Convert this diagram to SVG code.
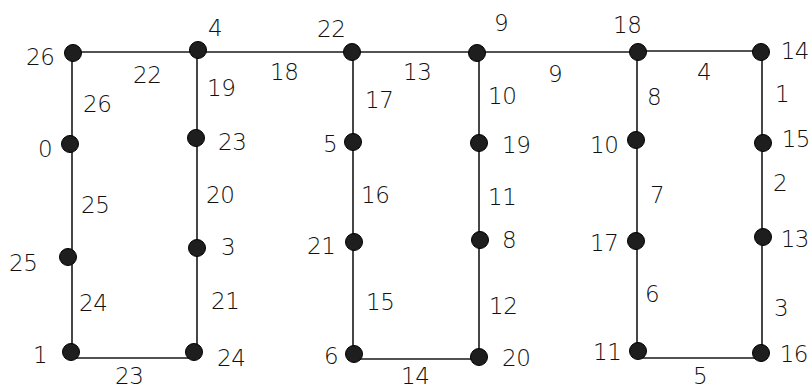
<svg xmlns="http://www.w3.org/2000/svg" width="811" height="389" viewBox="0 0 811 389">
<style>
.e{stroke:#1a1a1a;stroke-width:1.6;fill:none}
.n{fill:#1e1e1e;stroke:#000;stroke-width:1}
.t{font-family:"DejaVu Sans","Liberation Sans",sans-serif;font-size:23px;font-weight:200;fill:#111;letter-spacing:-0.5px}
.r{text-anchor:end}
</style>
<rect width="811" height="389" fill="#fff"/>
<g id="connectors">
<path class="e" d="M72,52H638M638,51H762"/>
<path class="e" d="M72,53V358H197V50"/>
<path class="e" d="M353,52V359H479V52"/>
<path class="e" d="M637,51V358H762V51"/>
</g>
<g id="edge-labels" class="t">
<text x="133" y="83">22</text>
<text x="270" y="80">18</text>
<text x="403" y="80">13</text>
<text x="548" y="82">9</text>
<text x="697" y="80">4</text>
<text x="83" y="112">26</text>
<text x="81" y="213">25</text>
<text x="79" y="311">24</text>
<text x="207" y="96">19</text>
<text x="206" y="203">20</text>
<text x="211" y="309">21</text>
<text x="115" y="384">23</text>
<text x="365" y="108">17</text>
<text x="361" y="203">16</text>
<text x="366" y="310">15</text>
<text x="401" y="384">14</text>
<text x="488" y="104">10</text>
<text x="488" y="205">11</text>
<text x="489" y="314">12</text>
<text x="647" y="105">8</text>
<text x="650" y="203">7</text>
<text x="645" y="302">6</text>
<text x="693" y="384">5</text>
<text x="775" y="102">1</text>
<text x="773" y="191">2</text>
<text x="774" y="316">3</text>
</g>
<g id="n26"><circle class="n" cx="73" cy="53" r="8.5"/><text class="t" x="26" y="65">26</text></g>
<g id="n4"><circle class="n" cx="198" cy="50" r="8.5"/><text class="t" x="208" y="36">4</text></g>
<g id="n22"><circle class="n" cx="352" cy="52" r="8.5"/><text class="t" x="317" y="37">22</text></g>
<g id="n9"><circle class="n" cx="477" cy="53" r="8.5"/><text class="t" x="494" y="31">9</text></g>
<g id="n18"><circle class="n" cx="638" cy="52" r="8.5"/><text class="t" x="613" y="33">18</text></g>
<g id="n14"><circle class="n" cx="761" cy="52" r="8.5"/><text class="t r" x="809" y="59">14</text></g>
<g id="n0"><circle class="n" cx="70" cy="144" r="8.5"/><text class="t" x="38" y="157">0</text></g>
<g id="n23"><circle class="n" cx="196" cy="138" r="8.5"/><text class="t" x="218" y="150">23</text></g>
<g id="n5"><circle class="n" cx="353" cy="142" r="8.5"/><text class="t" x="323" y="152">5</text></g>
<g id="n19"><circle class="n" cx="479" cy="143" r="8.5"/><text class="t" x="502" y="153">19</text></g>
<g id="n10"><circle class="n" cx="636" cy="140" r="8.5"/><text class="t" x="590" y="153">10</text></g>
<g id="n15"><circle class="n" cx="763" cy="143" r="8.5"/><text class="t r" x="810" y="147">15</text></g>
<g id="n25"><circle class="n" cx="68" cy="257" r="8.5"/><text class="t" x="9" y="271">25</text></g>
<g id="n3"><circle class="n" cx="197" cy="248" r="8.5"/><text class="t" x="221" y="255">3</text></g>
<g id="n21"><circle class="n" cx="354" cy="242" r="8.5"/><text class="t" x="307" y="254">21</text></g>
<g id="n8"><circle class="n" cx="480" cy="240" r="8.5"/><text class="t" x="502" y="248">8</text></g>
<g id="n17"><circle class="n" cx="636" cy="241" r="8.5"/><text class="t" x="590" y="251">17</text></g>
<g id="n13"><circle class="n" cx="763" cy="237" r="8.5"/><text class="t r" x="809" y="247">13</text></g>
<g id="n1"><circle class="n" cx="71" cy="352" r="8.5"/><text class="t" x="33" y="363">1</text></g>
<g id="n24"><circle class="n" cx="194" cy="352" r="8.5"/><text class="t" x="217" y="366">24</text></g>
<g id="n6"><circle class="n" cx="354" cy="354" r="8.5"/><text class="t" x="324" y="364">6</text></g>
<g id="n20"><circle class="n" cx="479" cy="357" r="8.5"/><text class="t" x="502" y="366">20</text></g>
<g id="n11"><circle class="n" cx="638" cy="351" r="8.5"/><text class="t" x="593" y="360">11</text></g>
<g id="n16"><circle class="n" cx="761" cy="353" r="8.5"/><text class="t r" x="808" y="362">16</text></g>
</svg>
